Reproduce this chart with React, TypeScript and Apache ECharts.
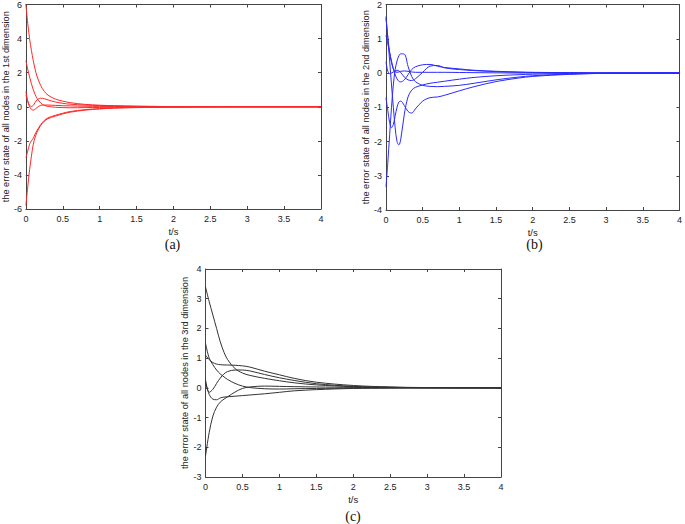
import React, { useEffect, useRef } from "react";
import * as echarts from "echarts";

// ---- time samples (s) ----
const T_A = [0, 0.025, 0.05, 0.075, 0.1, 0.125, 0.15, 0.2, 0.25, 0.3, 0.4, 0.5, 0.6, 0.8, 1.0, 1.2, 1.5, 2, 2.5, 3, 4];
const T_B = [0, 0.025, 0.05, 0.075, 0.1, 0.125, 0.15, 0.175, 0.2, 0.25, 0.3, 0.35, 0.4, 0.5, 0.6, 0.7, 0.8, 1.0, 1.2, 1.5, 1.8, 2.0, 2.5, 3, 4];
const T_C = [0, 0.05, 0.1, 0.15, 0.2, 0.25, 0.3, 0.4, 0.5, 0.6, 0.8, 1.0, 1.2, 1.5, 2, 2.5, 3, 4];

// ---- (a) 1st dimension ----
const a1 = [6, 4.9, 4.0, 3.3, 2.7, 2.2, 1.8, 1.25, 0.9, 0.68, 0.45, 0.33, 0.24, 0.14, 0.09, 0.06, 0.03, 0.01, 0.005, 0, 0];
const a2 = [2.7, 2.2, 1.75, 1.35, 1.0, 0.72, 0.5, 0.22, 0.08, 0.02, -0.03, -0.05, -0.06, -0.05, -0.04, -0.03, -0.02, -0.01, 0, 0, 0];
const a3 = [0.9, 0.35, 0.08, 0.02, 0.08, 0.25, 0.4, 0.5, 0.47, 0.4, 0.28, 0.2, 0.15, 0.1, 0.07, 0.05, 0.03, 0.01, 0, 0, 0];
const a4 = [0.7, 0.3, 0.0, -0.15, -0.2, -0.15, -0.05, 0.08, 0.1, 0.1, 0.08, 0.06, 0.05, 0.03, 0.02, 0.015, 0.01, 0, 0, 0, 0];
const a5 = [-3, -2.6, -2.2, -2.0, -1.85, -1.6, -1.4, -1.05, -0.8, -0.65, -0.5, -0.38, -0.28, -0.17, -0.11, -0.07, -0.04, -0.02, -0.01, 0, 0];
const a6 = [-5.8, -4.7, -3.7, -2.9, -2.2, -1.8, -1.5, -1.1, -0.85, -0.7, -0.55, -0.42, -0.32, -0.2, -0.13, -0.08, -0.05, -0.02, -0.01, 0, 0];

// ---- (b) 2nd dimension ----
const b1 = [1.65, 1.0, 0.35, -0.35, -1.0, -1.6, -2.0, -2.1, -1.95, -1.2, -0.7, -0.5, -0.42, -0.35, -0.3, -0.27, -0.24, -0.18, -0.13, -0.08, -0.05, -0.035, -0.015, -0.005, 0];
const b2 = [1.1, 0.85, 0.6, 0.35, 0.12, -0.05, -0.17, -0.24, -0.26, -0.2, -0.05, 0.1, 0.18, 0.24, 0.25, 0.2, 0.16, 0.12, 0.08, 0.05, 0.03, 0.02, 0.01, 0, 0];
const b3 = [0.33, 0.05, -0.02, 0, 0.03, 0.06, 0.08, 0.06, 0.02, -0.12, -0.2, -0.22, -0.17, 0.02, 0.2, 0.22, 0.15, 0.1, 0.07, 0.04, 0.02, 0.015, 0.005, 0, 0];
const b4 = [1.6, 1.05, 0.6, 0.3, 0.12, 0.04, 0.02, 0.03, 0.05, 0.06, 0.05, 0.03, 0.02, 0.02, 0.02, 0.02, 0.02, 0.015, 0.01, 0.005, 0, 0, 0, 0, 0];
const b5 = [-0.72, -1.1, -1.45, -1.6, -1.5, -1.25, -1.0, -0.85, -0.82, -0.95, -1.12, -1.17, -1.05, -0.82, -0.72, -0.7, -0.65, -0.52, -0.4, -0.25, -0.15, -0.1, -0.04, -0.01, 0];
const b6 = [-3.33, -2.6, -1.8, -1.0, -0.35, 0.1, 0.35, 0.5, 0.56, 0.55, 0.2, -0.1, -0.25, -0.36, -0.39, -0.4, -0.39, -0.36, -0.3, -0.2, -0.12, -0.08, -0.03, -0.01, 0];

// ---- (c) 3rd dimension ----
const c1 = [3.4, 2.9, 2.45, 2.0, 1.55, 1.2, 0.95, 0.65, 0.5, 0.42, 0.32, 0.24, 0.17, 0.1, 0.04, 0.015, 0.005, 0];
const c2 = [1.1, 0.95, 0.85, 0.8, 0.78, 0.77, 0.77, 0.76, 0.74, 0.7, 0.56, 0.44, 0.32, 0.19, 0.08, 0.03, 0.01, 0];
const c3 = [0.28, -0.15, -0.05, 0.15, 0.33, 0.47, 0.55, 0.6, 0.6, 0.57, 0.45, 0.34, 0.25, 0.14, 0.05, 0.02, 0.005, 0];
const c4 = [1.5, 1.0, 0.78, 0.6, 0.47, 0.37, 0.28, 0.15, 0.06, 0.01, -0.03, -0.04, -0.03, -0.02, -0.01, 0, 0, 0];
const c5 = [-2.3, -1.5, -0.95, -0.65, -0.48, -0.38, -0.3, -0.14, -0.02, 0.03, 0.06, 0.05, 0.04, 0.03, 0.015, 0.005, 0, 0];
const c6 = [0.2, -0.22, -0.38, -0.4, -0.34, -0.31, -0.3, -0.28, -0.26, -0.24, -0.2, -0.15, -0.1, -0.06, -0.02, -0.01, 0, 0];

const Y_NAMES = [
  "the error state of all nodes in the 1st dimension",
  "the error state of all nodes in the 2nd dimension",
  "the error state of all nodes in the 3rd dimension",
];
const X_NAME = "t/s";
const PANEL_LABELS = ["(a)", "(b)", "(c)"];

const SANS = "Liberation Sans, Arial, sans-serif";
const SERIF = "Liberation Serif, DejaVu Serif, serif";

export default function App() {
  const ref = useRef<HTMLDivElement>(null);

  useEffect(() => {
    document.body.style.margin = "0";
    if (!ref.current) return;
    const chart = echarts.init(ref.current, undefined, { renderer: "svg" });

    const grids = [
      { left: 24, top: 3, width: 297, height: 206 },
      { left: 386, top: 3, width: 297, height: 207 },
      { left: 205.5, top: 269, width: 295.5, height: 208 },
    ];
    const yRanges = [
      { min: -6, max: 6, interval: 2 },
      { min: -4, max: 2, interval: 1 },
      { min: -3, max: 4, interval: 1 },
    ];
    const yGaps = [13, 15, 16];
    const frame = { show: true, lineStyle: { color: "#444", width: 1 } };
    const tick = { show: true, inside: true, length: 3, lineStyle: { color: "#444", width: 1 } };
    const lbl = { fontFamily: SANS, fontSize: 9, color: "#222" };

    const xAxis: any[] = [];
    const yAxis: any[] = [];
    grids.forEach((_, i) => {
      xAxis.push({
        type: "value", gridIndex: i, min: 0, max: 4, interval: 0.5, position: "bottom",
        axisLine: { ...frame, onZero: false }, axisTick: tick, splitLine: { show: false },
        axisLabel: { ...lbl, margin: 5 },
        name: X_NAME, nameLocation: "middle", nameGap: 17,
        nameTextStyle: { fontFamily: SANS, fontSize: 9.5, color: "#222" },
      });
      xAxis.push({
        type: "value", gridIndex: i, min: 0, max: 4, interval: 0.5, position: "top",
        axisLine: { ...frame, onZero: false }, axisTick: tick, splitLine: { show: false },
        axisLabel: { show: false },
      });
      yAxis.push({
        type: "value", gridIndex: i, ...yRanges[i], position: "left",
        axisLine: { ...frame, onZero: false }, axisTick: tick, splitLine: { show: false },
        axisLabel: { ...lbl, margin: 4 },
        name: Y_NAMES[i], nameLocation: "middle", nameGap: yGaps[i], nameRotate: 90,
        nameTextStyle: { fontFamily: SANS, fontSize: 9.2, color: "#222" },
      });
      yAxis.push({
        type: "value", gridIndex: i, ...yRanges[i], position: "right",
        axisLine: { ...frame, onZero: false }, axisTick: tick, splitLine: { show: false },
        axisLabel: { show: false },
      });
    });

    const panels = [
      { t: T_A, data: [a1, a2, a3, a4, a5, a6], color: "#ff2828" },
      { t: T_B, data: [b1, b2, b3, b4, b5, b6], color: "#2a2aff" },
      { t: T_C, data: [c1, c2, c3, c4, c5, c6], color: "#333333" },
    ];
    const series: any[] = [];
    panels.forEach((p, i) => {
      p.data.forEach((vals, k) => {
        series.push({
          type: "line",
          name: `${PANEL_LABELS[i]}-${k + 1}`,
          xAxisIndex: 2 * i,
          yAxisIndex: 2 * i,
          data: p.t.map((t, j) => [t, vals[j]]),
          showSymbol: false,
          smooth: 0.35,
          lineStyle: { color: p.color, width: 1 },
          silent: true,
        });
      });
    });

    const labelPos = [
      { x: 172.5, y: 244 },
      { x: 534.5, y: 244 },
      { x: 353, y: 516 },
    ];

    chart.setOption({
      animation: false,
      grid: grids.map((g) => ({ ...g, containLabel: false })),
      xAxis,
      yAxis,
      series,
      graphic: PANEL_LABELS.map((t, i) => ({
        type: "text",
        x: labelPos[i].x,
        y: labelPos[i].y,
        style: {
          text: t,
          fontFamily: SERIF,
          fontSize: 14,
          fill: "#111",
          align: "center",
          verticalAlign: "middle",
        },
      })),
    });

    return () => chart.dispose();
  }, []);

  return <div ref={ref} style={{ width: 685, height: 524 }} />;
}
